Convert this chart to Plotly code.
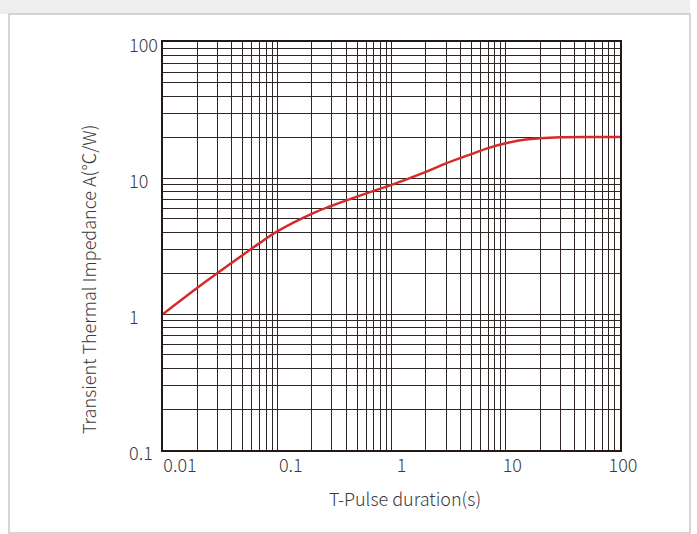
import plotly.graph_objects as go

# Data
pulse_s = [0.01, 0.02, 0.03, 0.05, 0.07, 0.1, 0.2, 0.3, 0.5, 0.7,
           1, 2, 3, 5, 7, 10, 15, 20, 30, 50, 100]
impedance = [1.0, 1.56, 2.0, 2.72, 3.32, 4.05, 5.45, 6.25, 7.3, 8.05,
             8.9, 11.1, 12.8, 15.0, 16.6, 18.0, 19.2, 19.6, 19.9, 20.0, 20.0]

x_tick_vals = [0.01, 0.1, 1, 10, 100]
x_tick_text = ["0.01", "0.1", "1", "10", "100"]
y_tick_vals = [0.1, 1, 10, 100]
y_tick_text = ["0.1", "1", "10", "100"]

x_grid = [m * d for d in [0.01, 0.1, 1, 10] for m in range(1, 10)] + [100]
y_grid = [m * d for d in [0.1, 1, 10] for m in range(1, 10)] + [100]

x_title = "T-Pulse duration(s)"
y_title = "Transient Thermal Impedance A(℃/W)"

FONT = "Noto Sans CJK SC"
TXT = "#3a3a3a"
GRID = "#2e2624"
LINE = "#231815"

W, H = 697, 534
L, R, T, B = 120, 70, 24, 60
PW = W - L - R
PH = H - T - B

# plot box in pixels
BOX_L, BOX_R, BOX_T, BOX_B = 163, 620, 42, 450


def px_x(p):
    return (p - L) / PW


def px_y(p):
    return (H - B - p) / PH


# decades per pixel
dx = 4 / (BOX_R - BOX_L)
dy = 3 / (BOX_B - BOX_T)

# label axis x: labels spread a bit wider than the grid (0.01 at 180px, 100 at 623px)
lab_dx = 4 / (623 - 180)
x2_lo = -2 - (180 - BOX_L) * lab_dx
x2_hi = x2_lo + (W - R - BOX_L) * lab_dx

# label axis y: covers whole paper height, labels shifted 3.5px down
shift = 3.5 * dy
y2_lo = -1 - (H - B - BOX_B) * dy + shift
y2_hi = 2 + (BOX_T - T) * dy + shift

fig = go.Figure()

fig.add_trace(go.Scatter(
    x=pulse_s, y=impedance, mode="lines",
    line=dict(color="#d62a2a", width=2.5, shape="spline", smoothing=1.0),
    hoverinfo="skip", showlegend=False,
))
# invisible trace carrying the label axes
fig.add_trace(go.Scatter(
    x=pulse_s, y=impedance, mode="lines", xaxis="x2", yaxis="y2",
    line=dict(color="rgba(0,0,0,0)", width=0), hoverinfo="skip", showlegend=False,
))

tick_font = dict(family=FONT, size=18, color=TXT, weight=300)

fig.update_layout(
    width=W, height=H, autosize=False,
    margin=dict(l=L, r=R, t=T, b=B),
    paper_bgcolor="white", plot_bgcolor="rgba(0,0,0,0)",
    font=dict(family=FONT, size=14, color=TXT),
    xaxis=dict(
        type="log", range=[-2, 2], domain=[px_x(BOX_L), px_x(BOX_R)],
        tickvals=x_grid, showticklabels=False, ticks="",
        showgrid=True, gridcolor=GRID, gridwidth=1,
        showline=True, mirror=True, linecolor=LINE, linewidth=1.6,
        zeroline=False, fixedrange=True,
    ),
    yaxis=dict(
        type="log", range=[-1, 2], domain=[px_y(BOX_B), px_y(BOX_T)],
        tickvals=y_grid, showticklabels=False, ticks="",
        showgrid=True, gridcolor=GRID, gridwidth=1,
        showline=True, mirror=True, linecolor=LINE, linewidth=1.6,
        zeroline=False, fixedrange=True,
    ),
    xaxis2=dict(
        type="log", anchor="free", position=px_y(BOX_B), side="bottom",
        domain=[px_x(BOX_L), 1], range=[x2_lo, x2_hi],
        tickvals=x_tick_vals, ticktext=x_tick_text, ticks="",
        ticklabelstandoff=3,
        showgrid=False, showline=False, zeroline=False,
        tickfont=tick_font, fixedrange=True,
    ),
    yaxis2=dict(
        type="log", anchor="free", side="left",
        position=px_x(125), range=[y2_lo, y2_hi], domain=[0, 1],
        tickvals=y_tick_vals, ticktext=y_tick_text, ticks="",
        ticklabelposition="inside",
        showgrid=False, showline=False, zeroline=False,
        tickfont=tick_font, fixedrange=True,
    ),
    shapes=[
        dict(type="rect", xref="paper", yref="paper", layer="below",
             x0=px_x(0), x1=px_x(690), y0=px_y(14), y1=px_y(0),
             fillcolor="#eeeeee", line=dict(width=0)),
        dict(type="rect", xref="paper", yref="paper", layer="below",
             x0=px_x(9), x1=px_x(690), y0=px_y(533), y1=px_y(14),
             fillcolor="rgba(0,0,0,0)", line=dict(color="#c8c8c8", width=1.5)),
    ],
    annotations=[
        dict(text=x_title, xref="paper", yref="paper", x=px_x(405), y=px_y(498),
             showarrow=False, xanchor="center", yanchor="middle",
             font=dict(family=FONT, size=18, color=TXT, weight=300)),
        dict(text=y_title, xref="paper", yref="paper", x=px_x(88), y=px_y(280),
             showarrow=False, xanchor="center", yanchor="middle", textangle=-90,
             font=dict(family=FONT, size=18, color=TXT, weight=300)),
    ],
)

fig.write_html(
    "out.html",
    config={"displayModeBar": False},
    post_script="document.body.style.margin='0';document.body.style.overflow='hidden';",
)
